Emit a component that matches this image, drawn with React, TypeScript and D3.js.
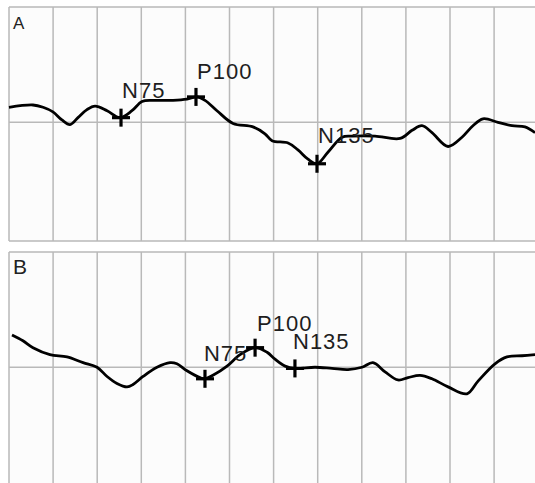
import * as d3 from 'd3'

// time (ms) and amplitude (arbitrary units)
const timeA = [0, 13.6, 19.3, 24.9, 30, 34.6, 39.1, 44.2, 48.8, 55.6, 62.9, 69.7, 75.4, 81.6, 93, 100.9, 106.6, 111.1, 117.9, 127, 138.3, 145.1, 149.1, 158.2, 163.8, 169.5, 174.6, 180.8, 188.8, 194.4, 207.5, 221.7, 228.5, 234.1, 239.8, 248.9, 256.8, 263, 268.7, 277.2, 285.2, 292.5, 298.2]
const ampA = [1.3, 1.5, 1.3, 0.9, 0.2, -0.2, 0.4, 1.1, 1.4, 1.0, 0.4, 1.0, 1.8, 1.9, 1.9, 2.0, 2.2, 1.9, 1.0, -0.1, -0.4, -1.0, -1.6, -1.8, -2.4, -3.2, -3.6, -2.6, -1.3, -1.2, -1.2, -1.4, -0.7, -0.3, -0.9, -2.1, -1.3, -0.3, 0.3, 0, -0.3, -0.4, -0.9]

const timeB = [1.7, 7.9, 13.6, 23.2, 32.9, 42, 49.9, 55.6, 61.2, 66.9, 70.3, 76, 83.9, 91.3, 95.2, 100.9, 108.3, 111.1, 115.6, 123.6, 131, 139.5, 146.3, 150.8, 156.5, 162.1, 173.5, 183.1, 192.2, 200.1, 206.3, 213.2, 220.5, 226.2, 233, 239.8, 248.9, 259.6, 265.9, 275.5, 282.3, 290.8, 298.2]
const ampB = [2.8, 2.3, 1.7, 1.1, 0.9, 0.4, 0, -0.8, -1.4, -1.7, -1.5, -0.8, 0, 0.4, 0.3, -0.3, -0.9, -1.0, -0.7, 0.1, 1.1, 1.7, 1.3, 0.7, 0.1, -0.1, 0, -0.1, -0.2, 0, 0.4, -0.4, -1.1, -0.9, -0.7, -1.0, -1.7, -2.3, -1.2, 0.3, 0.9, 1.0, 1.1]

// peak markers
const peakNames = ['N75', 'P100', 'N135']
const peakTimeA = [63.5, 106, 174.6]
const peakAmpA = [0.4, 2.2, -3.6]
const peakTimeB = [111.1, 139.5, 162.1]
const peakAmpB = [-1.0, 1.7, -0.1]

// where each peak label sits (time, amplitude of text baseline start)
const labelTimeA = [64.1, 106.6, 175.2]
const labelAmpA = [2.1, 3.76, -1.8]
const labelTimeB = [110.5, 140.6, 161.0]
const labelAmpB = [0.55, 3.15, 1.59]

const gridTimes = d3.range(0, 301, 25)

const W = 535
const H = 483

const x = d3.scaleLinear().domain([0, 300]).range([9, 538.2])

type PanelProps = {
  name: string
  top: number
  nameSize: number
  times: number[]
  amps: number[]
  peakT: number[]
  peakA: number[]
  labT: number[]
  labA: number[]
}

const Panel = ({ name, top, nameSize, times, amps, peakT, peakA, labT, labA }: PanelProps) => {
  const y = d3.scaleLinear().domain([-10.3, 10]).range([top + 234, top])
  const line = d3.line<number>()
    .x((d, i) => x(times[i]))
    .y(d => y(d))
    .curve(d3.curveCatmullRom.alpha(0.5))
  const grid = '#b9b9b9'
  return (
    <g>
      <rect x={x(0)} y={y(10)} width={x(300) - x(0)} height={y(-10.3) - y(10)} fill="#fcfcfc" />
      {gridTimes.map(t => (
        <line key={t} x1={x(t)} x2={x(t)} y1={y(10)} y2={y(-10.3)} stroke={grid} strokeWidth={1.5} />
      ))}
      {[10, 0, -10.3].map(v => (
        <line key={v} x1={x(0)} x2={x(300)} y1={y(v)} y2={y(v)} stroke={grid} strokeWidth={1.5} />
      ))}
      <text x={13} y={y(10) + 22} fontSize={nameSize} fill="#222"
        fontFamily="'Liberation Sans', Arial, sans-serif">{name}</text>
      <path d={line(amps) || ''} fill="none" stroke="#000" strokeWidth={2.8} strokeLinejoin="round" />
      {peakNames.map((p, i) => (
        <g key={p}>
          <line x1={x(peakT[i]) - 9} x2={x(peakT[i]) + 9} y1={y(peakA[i])} y2={y(peakA[i])} stroke="#000" strokeWidth={3.2} />
          <line x1={x(peakT[i])} x2={x(peakT[i])} y1={y(peakA[i]) - 9} y2={y(peakA[i]) + 9} stroke="#000" strokeWidth={3.2} />
          <text x={x(labT[i])} y={y(labA[i])} fontSize={22} letterSpacing={1} fill="#1e1e1e"
            fontFamily="'Liberation Sans', Arial, sans-serif">{p}</text>
        </g>
      ))}
    </g>
  )
}

export default function App() {
  return (
    <svg width={W} height={H} style={{ position: 'absolute', left: 0, top: 0, background: '#fff' }}>
      <Panel name="A" top={7} nameSize={17} times={timeA} amps={ampA}
        peakT={peakTimeA} peakA={peakAmpA} labT={labelTimeA} labA={labelAmpA} />
      <Panel name="B" top={252} nameSize={21} times={timeB} amps={ampB}
        peakT={peakTimeB} peakA={peakAmpB} labT={labelTimeB} labA={labelAmpB} />
    </svg>
  )
}
